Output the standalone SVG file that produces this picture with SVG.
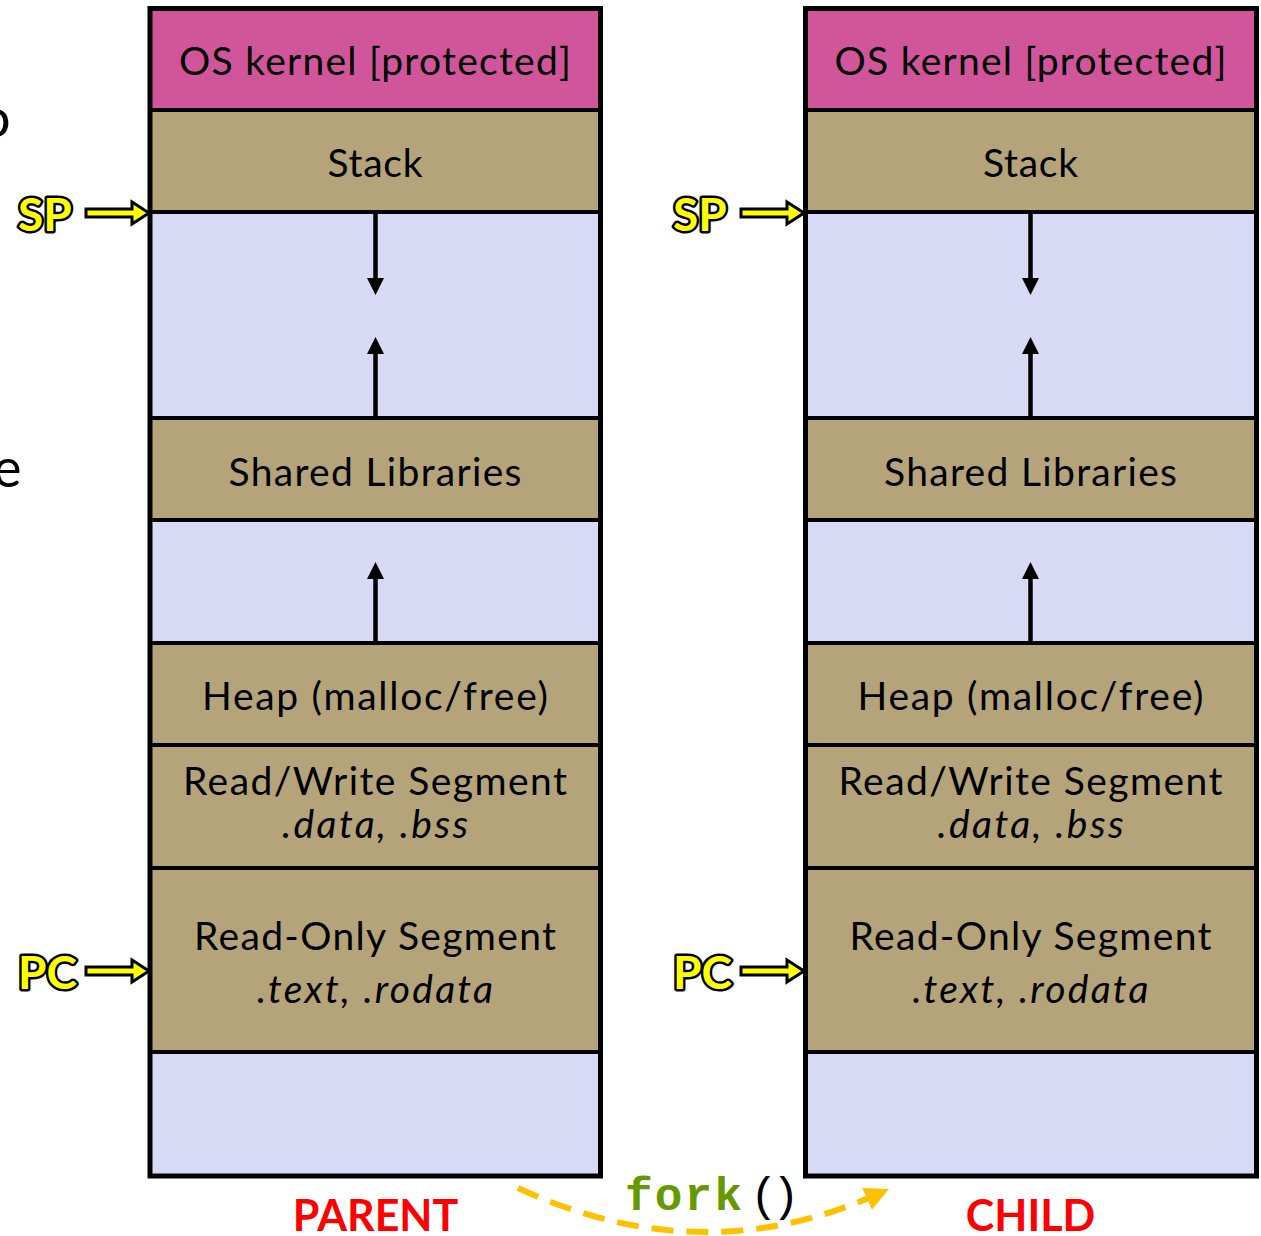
<svg xmlns="http://www.w3.org/2000/svg" width="1261" height="1236" viewBox="0 0 1261 1236">
<style>
.seg{stroke:#000;stroke-width:4}
.k{fill:#D0559B}
.t{fill:#B5A47A}
.f{fill:#D8D9F4}
.outer{fill:none;stroke:#000;stroke-width:5}
.lbl{font-family:"Lato","Open Sans",sans-serif;font-size:39px;fill:#000;text-anchor:middle}
.it{font-style:italic}
.ptr{font-family:"Lato","Open Sans",sans-serif;font-weight:bold;font-size:46px;fill:#FFFF00;stroke:#000;stroke-width:5;paint-order:stroke;stroke-linejoin:round}
.parr{fill:#FFFF00;stroke:#000;stroke-width:3;stroke-linejoin:miter}
.ax{stroke:#000;stroke-width:4.5;fill:none}
.ah{fill:#000}
.title{font-family:"Lato","Open Sans",sans-serif;font-weight:bold;font-size:43px;fill:#FF0000;text-anchor:middle}
.frag{font-family:"Lato","Open Sans",sans-serif;font-size:54px;fill:#000}
</style>
<defs>
<marker id="fk" viewBox="0 0 10 10" refX="5" refY="5" markerWidth="4" markerHeight="4" orient="auto" markerUnits="strokeWidth">
<path d="M0,0 L10,5 L0,10 z" fill="#FFC000"/>
</marker>
</defs>

<text class="frag" x="-20" y="137" font-size="42">o</text>
<text class="frag" x="-7" y="487">e</text>

<!-- PARENT column -->
<g id="parent">
<g id="p-kernel"><rect class="seg k" x="150" y="8.5" width="450.5" height="101.5"/><text class="lbl" x="375" y="75" textLength="392">OS kernel [protected]</text></g>
<g id="p-stack"><rect class="seg t" x="150" y="110" width="450.5" height="102"/><text class="lbl" x="375" y="177" textLength="95">Stack</text></g>
<g id="p-free1"><rect class="seg f" x="150" y="212" width="450.5" height="206"/></g>
<g id="p-shared"><rect class="seg t" x="150" y="418" width="450.5" height="102"/><text class="lbl" x="375" y="486" textLength="293">Shared Libraries</text></g>
<g id="p-free2"><rect class="seg f" x="150" y="520" width="450.5" height="123"/></g>
<g id="p-heap"><rect class="seg t" x="150" y="643" width="450.5" height="102"/><text class="lbl" x="375" y="710" textLength="346">Heap (malloc/free)</text></g>
<g id="p-rw"><rect class="seg t" x="150" y="745" width="450.5" height="123"/><text class="lbl" x="375" y="795" textLength="384">Read/Write Segment</text><text class="lbl it" x="375" y="838" textLength="186">.data, .bss</text></g>
<g id="p-ro"><rect class="seg t" x="150" y="868" width="450.5" height="184"/><text class="lbl" x="375" y="950" textLength="362">Read-Only Segment</text><text class="lbl it" x="375" y="1003" textLength="236">.text, .rodata</text></g>
<g id="p-free3"><rect class="seg f" x="150" y="1052" width="450.5" height="124"/></g>
<rect class="outer" x="150" y="8.5" width="450.5" height="1167.5"/>
</g>

<!-- CHILD column -->
<g id="child">
<g id="c-kernel"><rect class="seg k" x="805.5" y="8.5" width="451" height="101.5"/><text class="lbl" x="1030.5" y="75" textLength="392">OS kernel [protected]</text></g>
<g id="c-stack"><rect class="seg t" x="805.5" y="110" width="451" height="102"/><text class="lbl" x="1030.5" y="177" textLength="95">Stack</text></g>
<g id="c-free1"><rect class="seg f" x="805.5" y="212" width="451" height="206"/></g>
<g id="c-shared"><rect class="seg t" x="805.5" y="418" width="451" height="102"/><text class="lbl" x="1030.5" y="486" textLength="293">Shared Libraries</text></g>
<g id="c-free2"><rect class="seg f" x="805.5" y="520" width="451" height="123"/></g>
<g id="c-heap"><rect class="seg t" x="805.5" y="643" width="451" height="102"/><text class="lbl" x="1030.5" y="710" textLength="346">Heap (malloc/free)</text></g>
<g id="c-rw"><rect class="seg t" x="805.5" y="745" width="451" height="123"/><text class="lbl" x="1030.5" y="795" textLength="384">Read/Write Segment</text><text class="lbl it" x="1030.5" y="838" textLength="186">.data, .bss</text></g>
<g id="c-ro"><rect class="seg t" x="805.5" y="868" width="451" height="184"/><text class="lbl" x="1030.5" y="950" textLength="362">Read-Only Segment</text><text class="lbl it" x="1030.5" y="1003" textLength="236">.text, .rodata</text></g>
<g id="c-free3"><rect class="seg f" x="805.5" y="1052" width="451" height="124"/></g>
<rect class="outer" x="805.5" y="8.5" width="451" height="1167.5"/>
</g>

<!-- pointer labels -->
<g id="p-sp"><text class="ptr" x="18" y="231">SP</text><polygon class="parr" points="86,209 132,209 132,202 149,213 132,224 132,217 86,217"/></g>
<g id="p-pc"><text class="ptr" x="18" y="989">PC</text><polygon class="parr" points="86,967 132,967 132,960 149,971 132,982 132,975 86,975"/></g>
<g id="c-sp"><text class="ptr" x="673" y="231">SP</text><polygon class="parr" points="741,209 787,209 787,202 804,213 787,224 787,217 741,217"/></g>
<g id="c-pc"><text class="ptr" x="673" y="989">PC</text><polygon class="parr" points="741,967 787,967 787,960 804,971 787,982 787,975 741,975"/></g>

<!-- connectors -->
<g id="connectors">
<line class="ax" x1="375.5" y1="214" x2="375.5" y2="282"/><polygon class="ah" points="367,278 384,278 375.5,295"/>
<line class="ax" x1="375.5" y1="416" x2="375.5" y2="350"/><polygon class="ah" points="367,354 384,354 375.5,337"/>
<line class="ax" x1="375.5" y1="641" x2="375.5" y2="575"/><polygon class="ah" points="367,579 384,579 375.5,562"/>
<line class="ax" x1="1030.5" y1="214" x2="1030.5" y2="282"/><polygon class="ah" points="1022,278 1039,278 1030.5,295"/>
<line class="ax" x1="1030.5" y1="416" x2="1030.5" y2="350"/><polygon class="ah" points="1022,354 1039,354 1030.5,337"/>
<line class="ax" x1="1030.5" y1="641" x2="1030.5" y2="575"/><polygon class="ah" points="1022,579 1039,579 1030.5,562"/>
<path d="M518,1188 Q701,1273 878,1194" fill="none" stroke="#FFC000" stroke-width="6" stroke-dasharray="22 13" marker-end="url(#fk)"/>
</g>

<g id="fork-label">
<text y="1210" font-family="'Liberation Mono','Courier New',monospace" font-size="46"><tspan x="625" font-weight="bold" fill="#669900" textLength="117">fork</tspan><tspan x="750" fill="#000">(</tspan><tspan x="772" fill="#000">)</tspan></text>
</g>

<text class="title" x="375.5" y="1231">PARENT</text>
<text class="title" x="1030.5" y="1231">CHILD</text>
</svg>
